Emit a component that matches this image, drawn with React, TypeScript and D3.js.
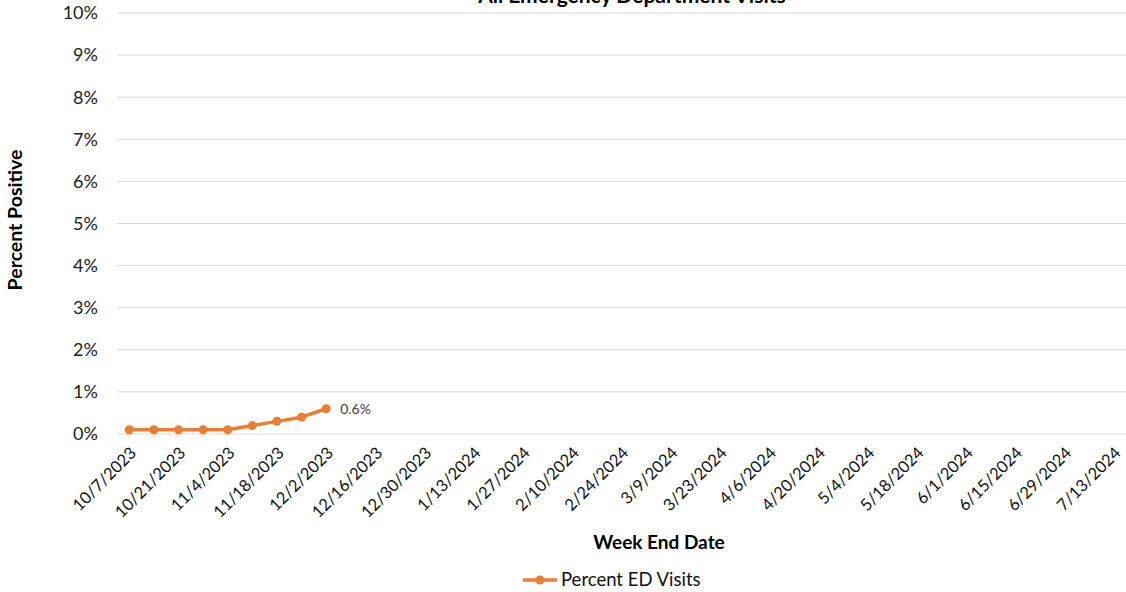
import React from "react";
import * as d3 from "d3";

const weeks: string[] = [
  "10/7/2023", "10/14/2023", "10/21/2023", "10/28/2023", "11/4/2023", "11/11/2023",
  "11/18/2023", "11/25/2023", "12/2/2023", "12/9/2023", "12/16/2023", "12/23/2023",
  "12/30/2023", "1/6/2024", "1/13/2024", "1/20/2024", "1/27/2024", "2/3/2024",
  "2/10/2024", "2/17/2024", "2/24/2024", "3/2/2024", "3/9/2024", "3/16/2024",
  "3/23/2024", "3/30/2024", "4/6/2024", "4/13/2024", "4/20/2024", "4/27/2024",
  "5/4/2024", "5/11/2024", "5/18/2024", "5/25/2024", "6/1/2024", "6/8/2024",
  "6/15/2024", "6/22/2024", "6/29/2024", "7/6/2024", "7/13/2024",
];
const percentED: number[] = [0.1, 0.1, 0.1, 0.1, 0.1, 0.2, 0.3, 0.4, 0.6];
const yTicks: number[] = [0, 1, 2, 3, 4, 5, 6, 7, 8, 9, 10];

const W = 1126;
const H = 592;
const FONT = "Lato, 'Open Sans', sans-serif";
const ORANGE = "#ED7D31";

export default function App() {
  const x = d3.scaleBand<string>().domain(weeks).range([117, 1126]).padding(0);
  const y = d3.scaleLinear().domain([0, 10]).range([434, 13]);
  const cx = (i: number) => (x(weeks[i]) as number) + x.bandwidth() / 2;
  const line = d3
    .line<number>()
    .x((_, i) => cx(i))
    .y((d) => y(d));
  const last = percentED.length - 1;

  return (
    <svg
      width={W}
      height={H}
      style={{ position: "absolute", left: 0, top: 0, background: "#fff" }}
      fontFamily={FONT}
    >
      <text x={632} y={3} textAnchor="middle" fontSize={21} fontWeight="bold" fill="#000">
        All Emergency Department Visits
      </text>
      {yTicks.map((t) => (
        <g key={t}>
          <line x1={117} x2={1126} y1={y(t)} y2={y(t)} stroke="#d9d9d9" strokeWidth={1} />
          <text x={98} y={y(t)} dy="0.35em" textAnchor="end" fontSize={18} fill="#222">
            {t}%
          </text>
        </g>
      ))}
      {weeks.map((w, i) =>
        i % 2 === 0 ? (
          <text
            key={w}
            transform={`translate(${cx(i) + 8},${454}) rotate(-45)`}
            textAnchor="end"
            fontSize={16.5}
            fill="#111"
          >
            {w}
          </text>
        ) : null
      )}
      <path d={line(percentED) || ""} fill="none" stroke={ORANGE} strokeWidth={3.5} strokeLinejoin="round" />
      {percentED.map((v, i) => (
        <circle key={i} cx={cx(i)} cy={y(v)} r={4.5} fill={ORANGE} />
      ))}
      <text x={cx(last) + 14} y={y(percentED[last])} dy="0.35em" fontSize={14} fill="#404040">
        {percentED[last].toFixed(1)}%
      </text>
      <text
        transform={`translate(22,220) rotate(-90)`}
        textAnchor="middle"
        fontSize={19.5}
        fontWeight="bold"
        fill="#000"
      >
        Percent Positive
      </text>
      <text x={659} y={549} textAnchor="middle" fontSize={19} fontWeight="bold" fill="#000">
        Week End Date
      </text>
      <line x1={523} x2={557} y1={580} y2={580} stroke={ORANGE} strokeWidth={3.5} />
      <circle cx={540} cy={580} r={4.5} fill={ORANGE} />
      <text x={561} y={580} dy="0.35em" fontSize={18.5} fill="#111">
        Percent ED Visits
      </text>
    </svg>
  );
}
